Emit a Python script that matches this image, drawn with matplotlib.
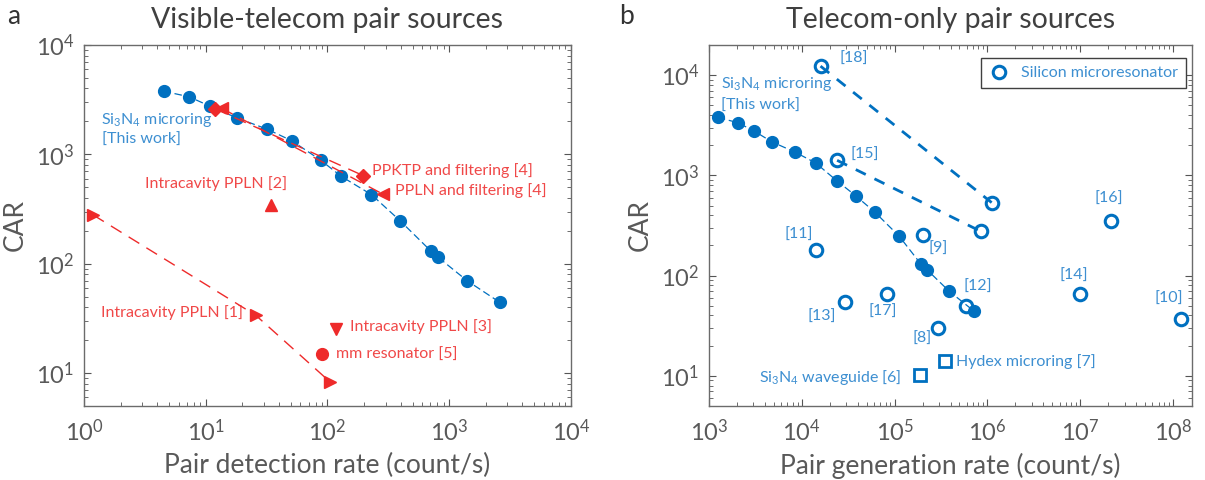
import matplotlib
matplotlib.use("Agg")
import matplotlib.pyplot as plt
from matplotlib.ticker import LogLocator, NullFormatter
from matplotlib.lines import Line2D

plt.rcParams['font.family'] = ['Lato', 'DejaVu Sans']
plt.rcParams['mathtext.fontset'] = 'custom'
plt.rcParams['mathtext.rm'] = 'Lato'
plt.rcParams['mathtext.it'] = 'Lato:italic'

# --- this work: Si3N4 microring (same CAR, detection vs generation rate)
car_sin = [3780, 3360, 2760, 2160, 1700, 1330, 884, 628, 428, 247, 131, 114, 70, 44.5]
det_rate_sin = [4.5, 7.3, 10.8, 17.9, 31.9, 51, 88, 130, 230, 395, 705, 815, 1400, 2590]
gen_rate_sin = [1245, 2040, 3075, 4760, 8510, 14100, 23800, 37900, 61500, 112000,
                191000, 224000, 386000, 710000]

# --- visible-telecom references
ppln1_rate = [1.19, 25.8, 105]
ppln1_car = [279, 33.7, 8.3]
ppln2_rate, ppln2_car = 34.3, 344
ppln3_rate, ppln3_car = 117, 25.5
mm5_rate, mm5_car = 90, 14.9
ppktp4_rate = [12.0, 196]
ppktp4_car = [2600, 640]
pplnf4_rate = [13.5, 286]
pplnf4_car = [2640, 432]

# --- telecom-only: silicon microresonators
si_refs = ['[18]', '[15]', '[11]', '[9]', '[13]', '[17]', '[8]', '[12]', '[14]', '[16]', '[10]']
si_rate = [15900, 24000, 14100, 200000, 29000, 83400, 296000, 587000, 1.0e7, 2.14e7, 1.21e8]
si_car = [12300, 1413, 180, 252, 54.2, 65.2, 29.9, 49.9, 65.2, 351, 36.7]
si18_rate = [15900, 1.11e6]
si18_car = [12300, 535]
si15_rate = [24000, 8.43e5]
si15_car = [1413, 277]
# label anchors for the reference numbers
si_lab_x = [36500, 48000, 9350, 296000, 16560, 73800, 196000, 796000, 8.6e6, 2.02e7, 9.1e7]
si_lab_y = [14400, 1596, 254, 185, 39, 43.8, 23.4, 76.6, 99.3, 581, 58.5]

wg6_rate, wg6_car = 186000, 10.1
hydex7_rate, hydex7_car = 351000, 14.1

blue = '#0070C0'
blue_txt = '#3D8FD1'
red = '#EE2A2A'
red_txt = '#F04848'
grey = '#595959'

fig = plt.figure(figsize=(12.05, 4.8), dpi=100)
ax1 = fig.add_axes([0.0697, 0.1542, 0.4041, 0.7521])
ax2 = fig.add_axes([0.5884, 0.1542, 0.4008, 0.7521])


def style_axes(ax):
    ax.set_xscale('log')
    ax.set_yscale('log')
    for s in ax.spines.values():
        s.set_color('#6b6b6b')
        s.set_linewidth(1.0)
    ax.tick_params(which='both', direction='in', top=True, right=True,
                   colors='#555555', labelcolor=grey, labelsize=17)
    ax.tick_params(which='major', length=5)
    ax.tick_params(which='minor', length=3)
    ax.tick_params(axis='x', pad=9)
    ax.tick_params(axis='y', pad=7)
    ax.xaxis.set_major_locator(LogLocator(base=10, numticks=20))
    ax.yaxis.set_major_locator(LogLocator(base=10, numticks=20))
    ax.xaxis.set_minor_locator(LogLocator(base=10, subs=range(2, 10), numticks=40))
    ax.yaxis.set_minor_locator(LogLocator(base=10, subs=range(2, 10), numticks=40))
    ax.xaxis.set_minor_formatter(NullFormatter())
    ax.yaxis.set_minor_formatter(NullFormatter())
    ax.set_ylabel('CAR', fontsize=19, color=grey, labelpad=6)


# ---------------- panel a
style_axes(ax1)
ax1.set_xlim(1, 1e4)
ax1.set_ylim(5, 1e4)

ax1.plot(det_rate_sin, car_sin, '--', color=blue, lw=0.9, dashes=(6, 3), zorder=2)
ax1.plot(det_rate_sin, car_sin, 'o', color=blue, ms=8.5, zorder=3)

ax1.plot(ppln1_rate, ppln1_car, '--', color=red, lw=1.0, dashes=(9, 6), zorder=4)
ax1.plot(ppln1_rate, ppln1_car, '>', color=red, ms=9, zorder=5)
ax1.plot(ppktp4_rate, ppktp4_car, '--', color=red, lw=1.0, dashes=(9, 6), zorder=4)
ax1.plot(ppktp4_rate, ppktp4_car, 'D', color=red, ms=7, zorder=5)
ax1.plot(pplnf4_rate, pplnf4_car, '--', color=red, lw=1.0, dashes=(9, 6), zorder=4)
ax1.plot(pplnf4_rate, pplnf4_car, '<', color=red, ms=9, zorder=5)
ax1.plot(ppln2_rate, ppln2_car, '^', color=red, ms=9, zorder=5)
ax1.plot(ppln3_rate, ppln3_car, 'v', color=red, ms=9, zorder=5)
ax1.plot(mm5_rate, mm5_car, 'o', color=red, ms=8.5, zorder=5)

tk = dict(fontsize=11.5, va='center')
ax1.text(1.38, 2060, 'Si$_3$N$_4$ microring', color=blue_txt, **tk)
ax1.text(1.41, 1352, '[This work]', color=blue_txt, **tk)
ax1.text(12.1, 538, 'Intracavity PPLN [2]', color=red_txt, ha='center', **tk)
ax1.text(233, 711, 'PPKTP and filtering [4]', color=red_txt, **tk)
ax1.text(359, 464, 'PPLN and filtering [4]', color=red_txt, **tk)
ax1.text(1.38, 35.6, 'Intracavity PPLN [1]', color=red_txt, **tk)
ax1.text(154, 26.6, 'Intracavity PPLN [3]', color=red_txt, **tk)
ax1.text(117, 14.8, 'mm resonator [5]', color=red_txt, **tk)

ax1.set_xlabel('Pair detection rate (count/s)', fontsize=19, color=grey, labelpad=6)
ax1.set_title('Visible-telecom pair sources', fontsize=20.5, color='#404040', pad=12)

# ---------------- panel b
style_axes(ax2)
ax2.set_xlim(1e3, 1.6e8)
ax2.set_ylim(5, 2e4)

ax2.plot(gen_rate_sin, car_sin, '--', color=blue, lw=0.9, dashes=(6, 3), zorder=2)
ax2.plot(gen_rate_sin, car_sin, 'o', color=blue, ms=8.5, zorder=4)

ax2.plot(si18_rate, si18_car, '--', color=blue, lw=2.0, dashes=(4, 3.5), zorder=2)
ax2.plot(si15_rate, si15_car, '--', color=blue, lw=2.0, dashes=(4, 3.5), zorder=2)
ax2.plot(si_rate, si_car, 'o', mfc='none', mec=blue, mew=2.2, ms=9, ls='none', zorder=3)
ax2.plot([si18_rate[1], si15_rate[1]], [si18_car[1], si15_car[1]], 'o', mfc='none',
         mec=blue, mew=2.2, ms=9, ls='none', zorder=3)
for lab, lx, ly in zip(si_refs, si_lab_x, si_lab_y):
    ax2.text(lx, ly, lab, color=blue_txt, ha='center', **tk)

ax2.plot(wg6_rate, wg6_car, 's', mfc='none', mec=blue, mew=2.0, ms=9, zorder=3)
ax2.plot(hydex7_rate, hydex7_car, 's', mfc='none', mec=blue, mew=2.0, ms=9, zorder=3)
ax2.text(1.19e5, 9.6, 'Si$_3$N$_4$ waveguide [6]', color=blue_txt, ha='right', **tk)
ax2.text(4.62e5, 13.9, 'Hydex microring [7]', color=blue_txt, **tk)
ax2.text(1330, 8070, 'Si$_3$N$_4$ microring', color=blue_txt, **tk)
ax2.text(1355, 4940, '[This work]', color=blue_txt, **tk)

handle = Line2D([], [], marker='o', ls='none', mfc='none', mec=blue, mew=2.2, ms=9)
leg = ax2.legend([handle], ['Silicon microresonator'], loc='upper right',
                 fontsize=11.5, fancybox=False, framealpha=1, edgecolor='#404040',
                 handletextpad=0.8, borderpad=0.5, handlelength=1.2,
                 borderaxespad=0, bbox_to_anchor=(0.988, 0.964))
for t in leg.get_texts():
    t.set_color(blue_txt)
leg.get_frame().set_linewidth(1.0)

ax2.set_xlabel('Pair generation rate (count/s)', fontsize=19, color=grey, labelpad=6)
ax2.set_title('Telecom-only pair sources', fontsize=20.5, color='#404040', pad=12)

fig.text(0.006, 0.965, 'a', fontsize=19, color='#333333', va='center')
fig.text(0.514, 0.965, 'b', fontsize=19, color='#333333', va='center')

fig.savefig('out.png', dpi=100)
